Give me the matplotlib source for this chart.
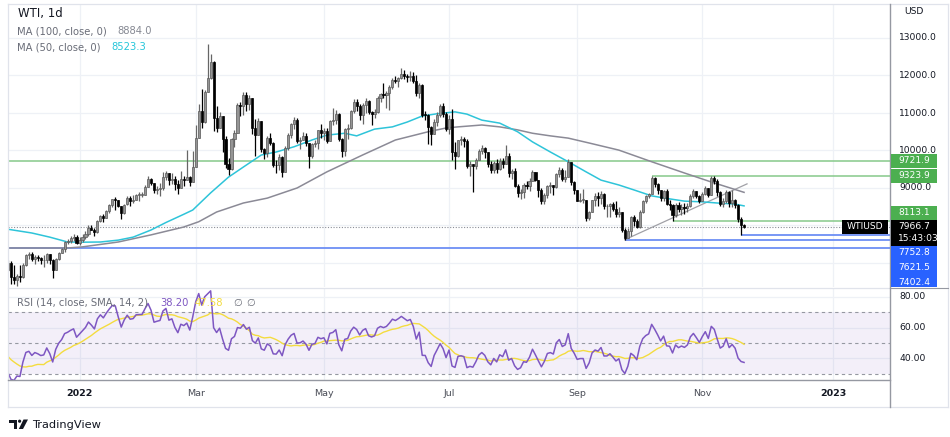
import numpy as np
import pandas as pd
import matplotlib
matplotlib.use("Agg")
import matplotlib.pyplot as plt
from matplotlib.lines import Line2D
from matplotlib.patches import Rectangle, Polygon, Circle

plt.rcParams["font.family"] = ["DejaVu Sans"]

# ---------------- data: WTIUSD daily (price x 100) ----------------
holidays = ["2021-12-24", "2022-01-17", "2022-02-21", "2022-04-15",
            "2022-05-30", "2022-06-20", "2022-07-04", "2022-09-05"]
first_day, last_day = "2021-11-29", "2022-11-21"

# closes before the first visible bar (only used to warm up the RSI)
warmup_close = [8244, 8296, 8342, 8250, 8376, 8376, 8465, 8266, 8281, 8357,
                8405, 8391, 8086, 7881, 8127, 8193, 8415, 8134, 8159, 8079,
                8088, 8076, 7836, 7901, 7610, 7675, 7850, 7839, 6815]

close = [
    # Nov/Dec 2021
    6995, 6618, 6557, 6650, 6626, 6949, 7205, 7236, 7094, 7167,
    7129, 7073, 7087, 7238, 7086, 6823, 7112, 7276, 7379, 7557,
    7598, 7656, 7699, 7521,
    # Jan
    7608, 7699, 7785, 7946, 7890, 7823, 8122, 8264, 8212, 8382,
    8543, 8696, 8690, 8514, 8331, 8560, 8735, 8661, 8682, 8815,
    # Feb
    8820, 8826, 9027, 9231, 9132, 8936, 8966, 8988, 9300, 9400,
    9207, 9250, 9100, 9000, 9235, 9210, 9281, 9159, 9572,
    # Mar
    10341, 11060, 10767, 11568, 11940, 12370, 10870, 10602, 10933, 10301,
    9644, 9504, 10298, 10470, 11212, 11176, 11493, 11234, 11390, 10596,
    10424, 10782, 10028,
    # Apr
    9927, 10328, 10196, 9623, 9603, 9826, 9429, 10060, 10425, 10695,
    10821, 10256, 10275, 10379, 10207, 9854, 10170, 10202, 10536, 10469,
    # May
    10517, 10241, 10781, 10826, 10977, 10309, 9976, 10571, 10613, 11049,
    11300, 11200, 10959, 11221, 11323, 11029, 10977, 11033, 11409, 11507,
    11467,
    # Jun
    11526, 11687, 11887, 11850, 11941, 12050, 12000, 11950, 12000, 11850,
    11531, 11759, 10956, 10952, 10619, 10427, 10762, 10957, 11176, 10978,
    10576,
    # Jul
    10843, 9950, 9853, 10273, 10300, 10250, 9584, 9630, 9578, 9759,
    9990, 10080, 9950, 9635, 9470, 9670, 9498, 9726, 9642, 9862,
    # Aug
    9389, 9442, 9066, 8854, 8901, 9076, 9050, 9193, 9434, 9209,
    8941, 8653, 8811, 9050, 9077, 9023, 9374, 9489, 9252, 9306,
    9701, 9164, 8955,
    # Sep
    8661, 8687, 8688, 8194, 8354, 8679, 8778, 8731, 8848, 8510,
    8511, 8573, 8445, 8294, 8349, 7874, 7671, 7850, 8215, 8123,
    7949,
    # Oct
    8363, 8652, 8776, 8845, 9264, 9113, 8935, 8727, 8911, 8561,
    8546, 8282, 8555, 8451, 8505, 8458, 8532, 8791, 8908, 8790,
    8653,
    # Nov
    8837, 9000, 8817, 9261, 9179, 8891, 8583, 8647, 8896, 8587,
    8692, 8559, 8164, 8008, 7967,
]

high = [
    7080, 7050, 6940, 6700, 6940, 6990, 7240, 7281, 7280, 7213,
    7210, 7170, 7200, 7278, 7250, 7110, 7125, 7290, 7400, 7590,
    7630, 7715, 7780, 7740,
    7690, 7760, 7855, 8020, 8000, 7930, 8140, 8277, 8295, 8410,
    8574, 8713, 8767, 8644, 8530, 8582, 8790, 8794, 8804, 8836,
    8886, 8903, 9068, 9321, 9254, 9115, 9047, 9140, 9420, 9450,
    9400, 9400, 9330, 9200, 9450, 9331, 10000, 9330, 9990,
    10680, 11250, 11650, 11600, 12840, 12580, 12390, 11180, 11020, 10900,
    10390, 9800, 10340, 10550, 11270, 11280, 11550, 11560, 11477, 11300,
    10840, 10869, 10780,
    10073, 10390, 10466, 10218, 9750, 9900, 9857, 10120, 10465, 10720,
    10885, 10855, 10350, 10490, 10470, 10200, 10200, 10290, 10550, 10710,
    10600, 10591, 10810, 11120, 11075, 11008, 10340, 10600, 10700, 11070,
    11380, 11360, 11240, 11260, 11392, 11340, 11040, 11117, 11445, 11540,
    11800,
    11595, 11750, 11943, 11998, 11964, 12200, 12150, 12050, 12120, 12100,
    12000, 11800, 11778, 11040, 10960, 10650, 10834, 11020, 11242, 11279,
    11019,
    10935, 11100, 10235, 10280, 10380, 10350, 10300, 9719, 9640, 9787,
    10050, 10150, 10100, 9960, 9715, 9733, 9760, 9795, 9808, 10135,
    9930, 9500, 9520, 9117, 8969, 9120, 9198, 9262, 9470, 9420,
    9200, 9010, 8870, 9091, 9147, 9093, 9410, 9550, 9543, 9470,
    9765, 9702, 9190,
    8938, 8875, 8965, 8680, 8385, 8690, 8864, 8906, 8916, 8870,
    8570, 8595, 8620, 8650, 8505, 8343, 7930, 7944, 8262, 8273,
    8180,
    8400, 8686, 8800, 8866, 9324, 9290, 9140, 8950, 8940, 8980,
    8680, 8560, 8590, 8620, 8565, 8590, 8590, 8840, 8966, 8919,
    8820,
    8900, 9040, 9000, 9330, 9311, 9240, 8920, 8740, 8940, 8930,
    8950, 8700, 8580, 8230, 8050,
]

low = [
    6780, 6440, 6443, 6390, 6500, 6600, 6920, 7110, 7040, 6970,
    7040, 6980, 6890, 7000, 6980, 6610, 6810, 7070, 7260, 7300,
    7510, 7520, 7590, 7500,
    7490, 7560, 7640, 7730, 7870, 7730, 7800, 8095, 8090, 8200,
    8327, 8480, 8420, 8480, 8172, 8310, 8540, 8530, 8590, 8670,
    8660, 8760, 8800, 9020, 9078, 8854, 8853, 8780, 8955, 9200,
    9080, 9100, 8950, 8850, 8990, 9060, 9210, 9060, 9160,
    9550, 10340, 10610, 10720, 11590, 11900, 10520, 10500, 10640, 9950,
    9520, 9341, 9480, 10080, 10470, 10930, 10950, 11060, 11080, 10450,
    9844, 10410, 9948,
    9784, 9830, 10140, 9563, 9400, 9480, 9293, 9486, 10018, 10337,
    10580, 10200, 10028, 10300, 10130, 9528, 9790, 10090, 10050, 10330,
    10280, 10212, 10250, 10690, 10700, 10249, 9820, 9850, 10300, 10570,
    10990, 11050, 10810, 10715, 11000, 10970, 10670, 10860, 11000, 11280,
    11400,
    11128, 11090, 11630, 11800, 11693, 11900, 11900, 11820, 11860, 11810,
    11450, 11400, 10883, 10810, 10160, 10141, 10436, 10655, 10900, 10886,
    10510,
    10445, 9750, 9510, 9826, 10152, 10100, 9523, 9312, 8900, 9495,
    9775, 9900, 9800, 9555, 9392, 9410, 9400, 9480, 9530, 9630,
    9300, 9227, 9030, 8748, 8705, 8746, 8960, 8910, 9190, 9190,
    8767, 8570, 8580, 8740, 8876, 8820, 8990, 9300, 9196, 9170,
    9284, 9080, 8850,
    8640, 8637, 8600, 8120, 8146, 8367, 8530, 8523, 8565, 8447,
    8227, 8230, 8390, 8226, 8215, 7822, 7622, 7670, 7729, 7994,
    7933,
    7940, 8335, 8600, 8735, 8835, 9035, 8830, 8660, 8641, 8540,
    8417, 8113, 8220, 8370, 8270, 8296, 8350, 8505, 8730, 8720,
    8590,
    8670, 8800, 8750, 8800, 9100, 8790, 8530, 8500, 8590, 8490,
    8490, 8460, 8100, 7753, 7940,
]

# moving averages
ma100_dates = ["2021-11-29", "2021-12-28", "2022-01-04", "2022-01-21", "2022-02-07",
               "2022-02-23", "2022-03-02", "2022-03-10", "2022-03-23", "2022-04-04",
               "2022-04-19", "2022-05-03", "2022-05-19", "2022-06-06", "2022-06-22",
               "2022-06-30", "2022-07-07", "2022-07-19", "2022-07-27", "2022-08-04",
               "2022-08-11", "2022-08-19", "2022-08-29", "2022-09-08", "2022-09-22",
               "2022-10-07", "2022-10-24", "2022-11-04", "2022-11-21"]
ma100_values = [7400, 7400, 7430, 7560, 7750, 7960, 8100, 8360, 8600, 8730,
                9000, 9430, 9880, 10280, 10500, 10600, 10630, 10680, 10630, 10550,
                10460, 10390, 10330, 10200, 10010, 9700, 9400, 9160, 8884]
ma50_dates = ["2021-11-29", "2021-12-09", "2021-12-17", "2021-12-28", "2022-01-04",
              "2022-01-12", "2022-01-21", "2022-01-28", "2022-02-07", "2022-02-14",
              "2022-02-23", "2022-02-28", "2022-03-08", "2022-03-16", "2022-03-23",
              "2022-03-31", "2022-04-07", "2022-04-18", "2022-04-26", "2022-05-03",
              "2022-05-11", "2022-05-17", "2022-05-25", "2022-06-03", "2022-06-10",
              "2022-06-17", "2022-06-27", "2022-07-06", "2022-07-12", "2022-07-19",
              "2022-07-27", "2022-08-04", "2022-08-11", "2022-08-19", "2022-08-29",
              "2022-09-07", "2022-09-14", "2022-09-22", "2022-09-29", "2022-10-07",
              "2022-10-17", "2022-10-24", "2022-11-01", "2022-11-08", "2022-11-16",
              "2022-11-21"]
ma50_values = [7900, 7800, 7690, 7560, 7555, 7560, 7610, 7690, 7880, 8080,
               8300, 8413, 8870, 9290, 9560, 9880, 9960, 10100, 10280, 10410,
               10460, 10390, 10570, 10630, 10760, 10920, 10980, 11030, 10970, 10810,
               10730, 10500, 10230, 9960, 9700, 9430, 9210, 9080, 8950, 8790,
               8710, 8650, 8630, 8600, 8570, 8523]

green_levels = [9721.9, 9323.9, 8113.1]
green_from = [None, "2022-10-07", "2022-10-18"]
blue_levels = [7402.4, 7621.5, 7752.8]
blue_from = [None, "2022-09-26", "2022-11-18"]
last_price = 7966.7
countdown = "15:43:03"
trend_from = ("2022-09-26", 7621.5)
trend_to = ("2022-11-22", 9110.0)
ma100_last, ma50_last = "8884.0", "8523.3"
rsi_last, rsi_ma_last = "38.20", "47.58"
price_ticks = [13000, 12000, 11000, 10000, 9000]
rsi_ticks = [80, 60, 40]
month_ticks = [("2022-01-03", "2022"), ("2022-03-01", "Mar"), ("2022-05-02", "May"),
               ("2022-07-01", "Jul"), ("2022-09-01", "Sep"), ("2022-11-01", "Nov"),
               ("2023-01-02", "2023")]

# ---------------- bar positions ----------------
days = pd.bdate_range(first_day, last_day)
days = days[~days.isin(pd.to_datetime(holidays))]
future = pd.bdate_range("2022-11-22", "2023-03-31")
n = len(days)
assert len(close) == len(high) == len(low) == n


def pos(d):
    d = pd.Timestamp(d)
    if d <= days[-1]:
        return int(days.searchsorted(d))
    return n + int(future.searchsorted(d))


c = np.array(close, float)
o = np.concatenate([[warmup_close[-1]], c[:-1]])
h = np.maximum(np.array(high, float), np.maximum(o, c))
l = np.minimum(np.array(low, float), np.minimum(o, c))
x = np.arange(n)

# RSI(14) with SMA(14) signal, TradingView style (rma)
allc = np.array(warmup_close + close, float)
delta = np.diff(allc)
gain = np.where(delta > 0, delta, 0.0)
loss = np.where(delta < 0, -delta, 0.0)


def rma(v, k=14):
    out = np.full(len(v), np.nan)
    out[k - 1] = v[:k].mean()
    for i in range(k, len(v)):
        out[i] = (out[i - 1] * (k - 1) + v[i]) / k
    return out


rsi_all = 100 - 100 / (1 + rma(gain) / rma(loss))
rsi_ma_all = pd.Series(rsi_all).rolling(14).mean().to_numpy()
rsi = rsi_all[-n:]
rsi_ma = rsi_ma_all[-n:]

# ---------------- figure ----------------
W, H = 950, 437
fig = plt.figure(figsize=(W / 100, H / 100), dpi=100)


def box(x0, y0, x1, y1):
    return [x0 / W, 1 - y1 / H, (x1 - x0) / W, (y1 - y0) / H]


ax = fig.add_axes(box(8, 4, 890, 287))
ax_rsi = fig.add_axes(box(8, 288, 890, 380))
ov = fig.add_axes([0, 0, 1, 1], zorder=10)
ov.set_xlim(0, W)
ov.set_ylim(H, 0)
ov.axis("off")
ov.patch.set_alpha(0)

px_per_bar = 2.98
xmax = 882 / px_per_bar
for a in (ax, ax_rsi):
    a.set_xlim(0, xmax)
    a.set_xticks([])
    a.set_yticks([])
    for s in a.spines.values():
        s.set_visible(False)

# price scale: 13000 at y=38px, 37.5 px per 1000
ax.set_ylim(13000 - (287 - 38) / 0.0375, 13000 + (38 - 4) / 0.0375)
ax_rsi.set_ylim(40 - (380 - 358.3) / 1.54, 80 + (296.7 - 288) / 1.54)

grid_c = "#eef1f6"
tick_pos = [pos(d) for d, _ in month_ticks]
for t in tick_pos:
    ax.axvline(t, color=grid_c, lw=0.9, zorder=0)
    ax_rsi.axvline(t, color=grid_c, lw=0.9, zorder=0)
for p in range(7000, 14000, 1000):
    ax.axhline(p, color=grid_c, lw=0.9, zorder=0)
for r in rsi_ticks:
    ax_rsi.axhline(r, color=grid_c, lw=0.9, zorder=0)

# horizontal levels
for lev, start in zip(green_levels, green_from):
    x0 = 0 if start is None else pos(start)
    ax.hlines(lev, x0, xmax, color="#86c98a", lw=1.1, zorder=1)
for lev, start in zip(blue_levels, blue_from):
    x0 = 0 if start is None else pos(start)
    ax.hlines(lev, x0, xmax, color="#6d8ff5", lw=1.3, zorder=1)
ax.axhline(last_price, color="#8a8d96", lw=0.8, ls=(0, (1, 1.5)), zorder=1)
ax.plot([pos(trend_from[0]), pos(trend_to[0])], [trend_from[1], trend_to[1]],
        color="#a0a0a6", lw=0.9, zorder=2)

# moving averages
ax.plot([pos(d) for d in ma100_dates], ma100_values, color="#8b8a96", lw=1.1, zorder=2)
ax.plot([pos(d) for d in ma50_dates], ma50_values, color="#2ec4d9", lw=1.1, zorder=2)

# candles
up = c >= o
wick_col = np.where(up, "#666666", "#000000")
ax.vlines(x, l, h, colors=wick_col, lw=0.9, zorder=3)
body_h = np.maximum(np.abs(c - o), 12)
ax.bar(x[up], body_h[up], bottom=np.minimum(o, c)[up], width=0.7,
       color="#959595", edgecolor="#595959", lw=0.5, zorder=4)
ax.bar(x[~up], body_h[~up], bottom=np.minimum(o, c)[~up], width=0.7,
       color="#000000", edgecolor="#000000", lw=0.5, zorder=4)

# RSI pane
ax_rsi.axhspan(30, 70, color="#7e57c2", alpha=0.09, lw=0, zorder=0)
for r in (70, 50, 30):
    ax_rsi.axhline(r, color="#9598a1", lw=0.8, ls=(0, (3, 3)), zorder=1)
ax_rsi.plot(x, rsi_ma, color="#f3dc3f", lw=1.0, zorder=2)
ax_rsi.plot(x, rsi, color="#7e57c2", lw=1.1, zorder=3)

# ---------------- frames ----------------
frame_c = "#e0e3eb"
for seg in [((8, 4), (948, 4)), ((8, 4), (8, 407)), ((8, 407), (948, 407)),
            ((948, 4), (948, 407)), ((8, 287.5), (890, 287.5))]:
    ov.add_line(Line2D([seg[0][0], seg[1][0]], [seg[0][1], seg[1][1]], color=frame_c, lw=0.9))
ov.add_line(Line2D([889.5, 889.5], [4, 407], color="#9598a1", lw=1.0))
ov.add_line(Line2D([8, 890], [380, 380], color="#9598a1", lw=1.0))
ov.add_line(Line2D([890, 948], [287.5, 287.5], color="#9598a1", lw=0.8))


def to_px(a, yval):
    return H - a.transData.transform((0, yval))[1]


txt = "#131722"
fs = 6.6
ov.text(904, 12, "USD", fontsize=fs, color=txt, va="center")
for p in price_ticks:
    ov.text(899, to_px(ax, p), f"{p:.1f}", fontsize=fs, color=txt, va="center")
for r in rsi_ticks:
    ov.text(899, to_px(ax_rsi, r), f"{r:.2f}", fontsize=fs, color=txt, va="center")

# price tags on the scale: the last-price tag stays put, the others are
# pushed away from it (up or down) so that none overlap
scale_clip = Rectangle((890, 4), 60, 283, transform=ov.transData)
above = [(green_levels[0], "#4caf50", 14), (green_levels[1], "#4caf50", 14),
         (green_levels[2], "#4caf50", 14)]
below = [(blue_levels[2], "#2962ff", 15), (blue_levels[1], "#2962ff", 15),
         (blue_levels[0], "#2962ff", 15)]
last_top = to_px(ax, last_price) - 7
last_h = 26


def draw_tag(top, hgt, col, lines):
    bottom = min(top + hgt, 287)
    ov.add_patch(Rectangle((890.5, top), 46, bottom - top, color=col, lw=0, zorder=5))
    for k, s in enumerate(lines):
        t = ov.text(898, top + 7 + 11.5 * k, s, fontsize=fs, color="white", va="center", zorder=6)
        t.set_clip_path(scale_clip)


draw_tag(last_top, last_h, "#000000", [f"{last_price:.1f}", countdown])
limit = last_top
for price, col, hgt in reversed(above):
    top = min(to_px(ax, price) - hgt / 2, limit - hgt)
    draw_tag(top, hgt, col, [f"{price:.1f}"])
    limit = top
limit = last_top + last_h
for price, col, hgt in below:
    top = max(to_px(ax, price) - hgt / 2, limit)
    draw_tag(top, hgt, col, [f"{price:.1f}"])
    limit = top + hgt

# symbol tag on the last price line
yl = to_px(ax, last_price)
ov.add_patch(Rectangle((842, yl - 7), 46, 14, color="#000000", lw=0, zorder=5))
ov.text(865, yl, "WTIUSD", fontsize=fs, color="white", ha="center", va="center", zorder=6)

# legends
lfs = 7.2
ov.text(18, 13, "WTI, 1d", fontsize=8.5, color=txt, va="center")
ov.text(17, 31, "MA (100, close, 0)", fontsize=lfs, color="#6a6d78", va="center")
ov.text(117, 31, ma100_last, fontsize=lfs, color="#868993", va="center")
ov.text(17, 47.5, "MA (50, close, 0)", fontsize=lfs, color="#6a6d78", va="center")
ov.text(111, 47.5, ma50_last, fontsize=lfs, color="#26c6da", va="center")
ov.text(17, 302.5, "RSI (14, close, SMA, 14, 2)", fontsize=lfs, color="#6a6d78", va="center")
ov.text(160, 302.5, rsi_last, fontsize=lfs, color="#7e57c2", va="center")
ov.text(195, 302.5, rsi_ma_last, fontsize=lfs, color="#f3dc3f", va="center")
ov.text(233, 302.5, "\u2205", fontsize=lfs, color="#6a6d78", va="center")
ov.text(246, 302.5, "\u2205", fontsize=lfs, color="#6a6d78", va="center")

# time axis labels
for (d, lab), t in zip(month_ticks, tick_pos):
    xp = 8 + t * px_per_bar
    bold = lab.isdigit()
    ov.text(xp, 393, lab, fontsize=6.8, color=txt if bold else "#4a4d57",
            ha="center", va="center", fontweight="bold" if bold else "normal")

# TradingView logo
ov.add_patch(Polygon([(9, 419.5), (17, 419.5), (17, 429), (13.5, 429), (13.5, 422.5), (9, 422.5)],
                     closed=True, color=txt, lw=0))
ov.add_patch(Circle((19.6, 421.2), 1.6, color=txt, lw=0))
ov.add_patch(Polygon([(23.5, 419.5), (28, 419.5), (23, 429), (18.8, 429)], closed=True, color=txt, lw=0))
ov.text(32, 424.5, "TradingView", fontsize=8.2, color=txt, va="center")

fig.savefig("out.png", dpi=100)
